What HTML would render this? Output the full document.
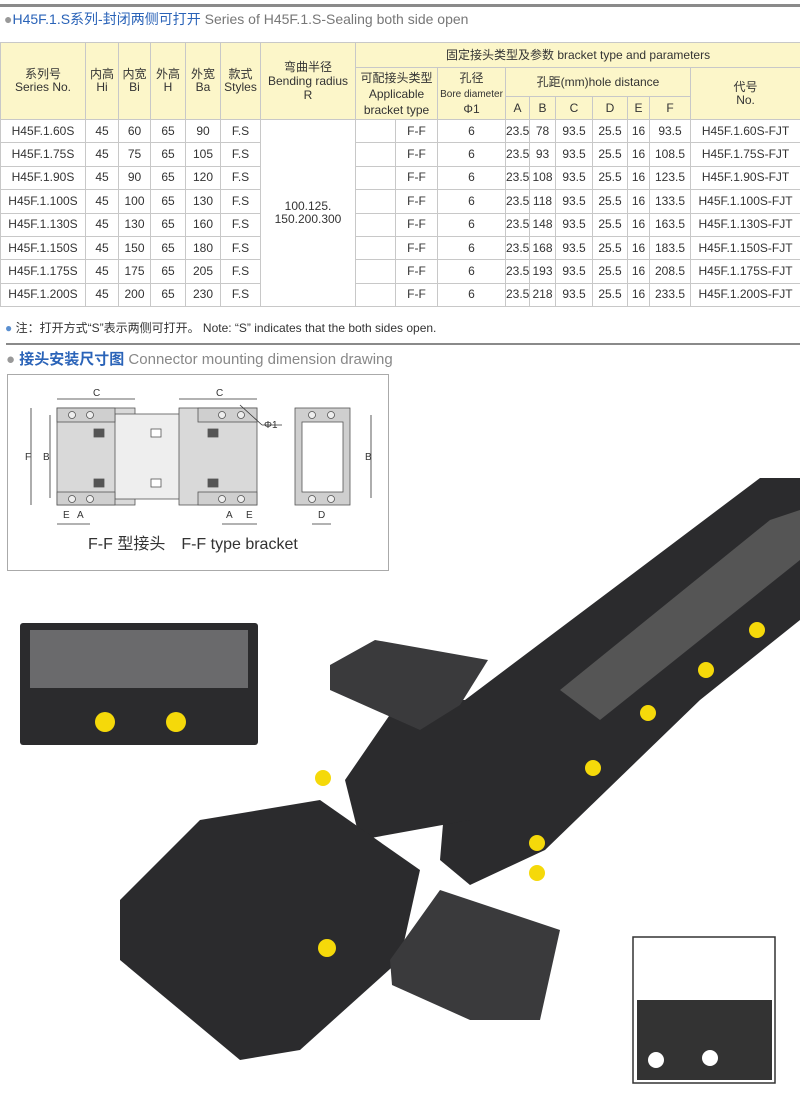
<!DOCTYPE html>
<html><head><meta charset="utf-8"><style>
body{margin:0;width:800px;height:1093px;background:#fff;position:relative;overflow:hidden;font-family:"Liberation Sans Narrow","Liberation Sans","Noto Sans CJK SC",sans-serif;color:#333}
.abs{position:absolute}
table{position:absolute;left:0;top:42px;border-collapse:collapse;table-layout:fixed;width:800px;font-size:12px}
td{border:1px solid #c8c8c8;text-align:center;padding:0;line-height:13px;overflow:hidden;white-space:nowrap}
tr.h td{background:#fcf6c9}
tr.d td{height:22.4px}
</style></head><body>
<div class="abs" style="left:0;top:4px;width:800px;height:3px;background:#8a8a8a"></div>
<div class="abs" style="left:4px;top:9px;font-size:14px;white-space:nowrap"><span style="color:#999">●</span><span style="color:#2a63b8">H45F.1.S系列-封闭两侧可打开</span> <span style="color:#777">Series of H45F.1.S-Sealing both side open</span></div>
<table>
<colgroup><col style="width:85px"><col style="width:33px"><col style="width:32px"><col style="width:35px"><col style="width:35px"><col style="width:40px"><col style="width:95px"><col style="width:40px"><col style="width:42px"><col style="width:68px"><col style="width:24px"><col style="width:26px"><col style="width:37px"><col style="width:35px"><col style="width:22px"><col style="width:41px"><col style="width:110px"></colgroup>
<tr class="h" style="height:25px"><td rowspan="3">系列号<br>Series No.</td><td rowspan="3">内高<br>Hi</td><td rowspan="3">内宽<br>Bi</td><td rowspan="3">外高<br>H</td><td rowspan="3">外宽<br>Ba</td><td rowspan="3">款式<br>Styles</td><td rowspan="3" style="line-height:14px">弯曲半径<br>Bending radius<br>R</td><td colspan="10">固定接头类型及参数 bracket type and parameters</td></tr>
<tr class="h" style="height:29px"><td colspan="2" rowspan="2" style="line-height:16px">可配接头类型<br>Applicable<br>bracket type</td><td rowspan="2" style="line-height:15px">孔径<br><span style="font-size:10px">Bore diameter</span><br>Φ1</td><td colspan="6">孔距(mm)hole distance</td><td rowspan="2">代号<br>No.</td></tr>
<tr class="h" style="height:23px"><td>A</td><td>B</td><td>C</td><td>D</td><td>E</td><td>F</td></tr>
<tr class="d"><td>H45F.1.60S</td><td>45</td><td>60</td><td>65</td><td>90</td><td>F.S</td><td rowspan="8">100.125.<br>150.200.300</td><td></td><td>F-F</td><td>6</td><td>23.5</td><td>78</td><td>93.5</td><td>25.5</td><td>16</td><td>93.5</td><td>H45F.1.60S-FJT</td></tr>
<tr class="d"><td>H45F.1.75S</td><td>45</td><td>75</td><td>65</td><td>105</td><td>F.S</td><td></td><td>F-F</td><td>6</td><td>23.5</td><td>93</td><td>93.5</td><td>25.5</td><td>16</td><td>108.5</td><td>H45F.1.75S-FJT</td></tr>
<tr class="d"><td>H45F.1.90S</td><td>45</td><td>90</td><td>65</td><td>120</td><td>F.S</td><td></td><td>F-F</td><td>6</td><td>23.5</td><td>108</td><td>93.5</td><td>25.5</td><td>16</td><td>123.5</td><td>H45F.1.90S-FJT</td></tr>
<tr class="d"><td>H45F.1.100S</td><td>45</td><td>100</td><td>65</td><td>130</td><td>F.S</td><td></td><td>F-F</td><td>6</td><td>23.5</td><td>118</td><td>93.5</td><td>25.5</td><td>16</td><td>133.5</td><td>H45F.1.100S-FJT</td></tr>
<tr class="d"><td>H45F.1.130S</td><td>45</td><td>130</td><td>65</td><td>160</td><td>F.S</td><td></td><td>F-F</td><td>6</td><td>23.5</td><td>148</td><td>93.5</td><td>25.5</td><td>16</td><td>163.5</td><td>H45F.1.130S-FJT</td></tr>
<tr class="d"><td>H45F.1.150S</td><td>45</td><td>150</td><td>65</td><td>180</td><td>F.S</td><td></td><td>F-F</td><td>6</td><td>23.5</td><td>168</td><td>93.5</td><td>25.5</td><td>16</td><td>183.5</td><td>H45F.1.150S-FJT</td></tr>
<tr class="d"><td>H45F.1.175S</td><td>45</td><td>175</td><td>65</td><td>205</td><td>F.S</td><td></td><td>F-F</td><td>6</td><td>23.5</td><td>193</td><td>93.5</td><td>25.5</td><td>16</td><td>208.5</td><td>H45F.1.175S-FJT</td></tr>
<tr class="d"><td>H45F.1.200S</td><td>45</td><td>200</td><td>65</td><td>230</td><td>F.S</td><td></td><td>F-F</td><td>6</td><td>23.5</td><td>218</td><td>93.5</td><td>25.5</td><td>16</td><td>233.5</td><td>H45F.1.200S-FJT</td></tr>
</table>
<div class="abs" style="left:5px;top:319px;font-size:12px;white-space:nowrap"><span style="color:#5a8fd0">●</span> 注：打开方式“S”表示两侧可打开。 Note: “S” indicates that the both sides open.</div>
<div class="abs" style="left:6px;top:343px;width:794px;height:2px;background:#8a8a8a"></div>
<div class="abs" style="left:6px;top:348px;font-size:15px;white-space:nowrap"><span style="color:#999">●</span> <span style="color:#2a63b8;font-weight:bold">接头安装尺寸图</span> <span style="color:#888">Connector mounting dimension drawing</span></div>
<div class="abs" style="left:7px;top:374px;width:380px;height:195px;border:1px solid #aaa"></div>
<svg class="abs" style="left:0;top:0" width="800" height="1093">
<g stroke="#555" stroke-width="0.8" fill="#d9d9d9">
<rect x="57" y="408" width="78" height="97"/>
<rect x="115" y="414" width="82" height="85" fill="#eee"/>
<rect x="179" y="408" width="78" height="97"/>
<rect x="57" y="408" width="58" height="14" fill="#cfcfcf"/><rect x="57" y="492" width="58" height="13" fill="#cfcfcf"/>
<rect x="198" y="408" width="59" height="14" fill="#cfcfcf"/><rect x="198" y="492" width="59" height="13" fill="#cfcfcf"/>
<rect x="295" y="408" width="55" height="97" fill="#cfcfcf"/><rect x="302" y="422" width="41" height="70" fill="#fff"/>
<rect x="94" y="429" width="10" height="8" fill="#555"/><rect x="94" y="479" width="10" height="8" fill="#555"/>
<rect x="151" y="429" width="10" height="8" fill="#fff"/><rect x="151" y="479" width="10" height="8" fill="#fff"/>
<rect x="208" y="429" width="10" height="8" fill="#555"/><rect x="208" y="479" width="10" height="8" fill="#555"/>
<g fill="#eee"><circle cx="72" cy="415" r="3.5"/><circle cx="90" cy="415" r="3.5"/><circle cx="72" cy="499" r="3.5"/><circle cx="90" cy="499" r="3.5"/><circle cx="222" cy="415" r="3.5"/><circle cx="241" cy="415" r="3.5"/><circle cx="222" cy="499" r="3.5"/><circle cx="241" cy="499" r="3.5"/><circle cx="312" cy="415" r="3.5"/><circle cx="331" cy="415" r="3.5"/><circle cx="312" cy="499" r="3.5"/><circle cx="331" cy="499" r="3.5"/></g>
</g>
<g stroke="#333" stroke-width="0.8" fill="none">
<line x1="57" y1="399" x2="135" y2="399"/><line x1="179" y1="399" x2="257" y2="399"/>
<line x1="31" y1="408" x2="31" y2="505"/><line x1="50" y1="415" x2="50" y2="498"/><line x1="371" y1="415" x2="371" y2="498"/>
<line x1="57" y1="524" x2="90" y2="524"/><line x1="222" y1="524" x2="257" y2="524"/><line x1="312" y1="524" x2="331" y2="524"/>
<line x1="240" y1="405" x2="262" y2="425"/><line x1="262" y1="425" x2="282" y2="425"/>
</g>
<g font-size="10" fill="#333" font-family="Liberation Sans"><text x="93" y="396">C</text><text x="216" y="396">C</text><text x="264" y="428">Φ1</text><text x="63" y="518">E</text><text x="77" y="518">A</text><text x="226" y="518">A</text><text x="246" y="518">E</text><text x="318" y="518">D</text><text x="25" y="460">F</text><text x="43" y="460">B</text><text x="365" y="460">B</text></g>
<text x="88" y="549" font-size="16" fill="#333" font-family="Liberation Sans,Noto Sans CJK SC,sans-serif">F-F 型接头　F-F type bracket</text>
<g fill="#2b2b2d">
<rect x="20" y="623" width="238" height="122" rx="3"/>
<rect x="30" y="630" width="218" height="58" fill="#6a6a6c"/>
<polygon points="465,700 760,478 800,478 800,620 700,700 545,850 470,885 440,860 445,800"/>
<polygon points="560,690 770,520 800,510 800,560 600,720" fill="#555"/>
<polygon points="345,780 400,700 470,700 470,820 360,840"/>
<polygon points="120,900 200,820 320,800 420,870 400,960 300,1050 240,1060 120,960"/>
<polygon points="330,665 375,640 488,660 460,705 420,730 330,690" fill="#3a3a3c"/>
<polygon points="390,960 440,890 560,930 540,1020 470,1020 392,985" fill="#3a3a3c"/>
<rect x="633" y="937" width="142" height="146" fill="#fff" stroke="#333" stroke-width="1.5"/>
<rect x="637" y="1000" width="135" height="80" fill="#333"/>
</g>
<g fill="#f5d90a"><circle cx="105" cy="722" r="10"/><circle cx="176" cy="722" r="10"/><circle cx="593" cy="768" r="8"/><circle cx="537" cy="843" r="8"/><circle cx="648" cy="713" r="8"/><circle cx="706" cy="670" r="8"/><circle cx="757" cy="630" r="8"/><circle cx="327" cy="948" r="9"/><circle cx="323" cy="778" r="8"/><circle cx="537" cy="873" r="8"/></g>
<g fill="#fff"><circle cx="656" cy="1060" r="8"/><circle cx="710" cy="1058" r="8"/></g>
</svg>
</body></html>
